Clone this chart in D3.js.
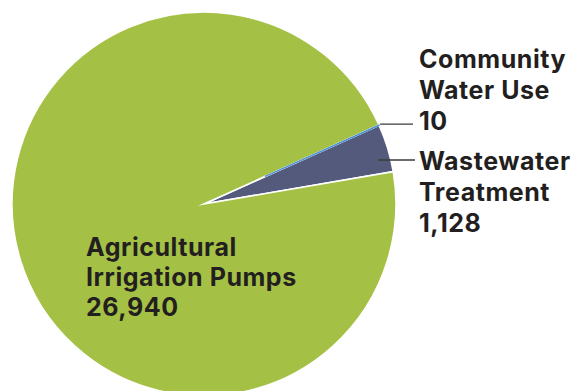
<!DOCTYPE html>
<html>
<head>
<meta charset="utf-8">
<script src="https://cdn.jsdelivr.net/npm/d3@7/dist/d3.min.js"></script>
<style>
  html, body { margin: 0; padding: 0; background: #ffffff; }
  svg { display: block; }
  text { font-family: Inter, Roboto, "Noto Sans", sans-serif; font-weight: 700; fill: #231f20; letter-spacing: 0.55px; }
</style>
</head>
<body>
<svg id="chart" width="571" height="391"></svg>
<script>
// Energy use by sector
const categories = ["Community Water Use", "Wastewater Treatment", "Agricultural Irrigation Pumps"];
const labelLines = [["Community", "Water Use"], ["Wastewater", "Treatment"], ["Agricultural", "Irrigation Pumps"]];
const values = [10, 1128, 26940];
const colors = ["#4a8fd6", "#535a7b", "#a5c145"];

const width = 571, height = 391;
const cx = 204, cy = 204, radius = 192;
const startDeg = 65.7;

const svg = d3.select("#chart");
const g = svg.append("g").attr("transform", `translate(${cx},${cy})`);

const pie = d3.pie()
  .sort(null)
  .value(d => d)
  .startAngle(startDeg * Math.PI / 180)
  .endAngle(startDeg * Math.PI / 180 + 2 * Math.PI);

const arcs = pie(values);
const arc = d3.arc().innerRadius(0).outerRadius(radius);

g.selectAll("path.slice")
  .data(arcs)
  .join("path")
  .attr("class", "slice")
  .attr("d", arc)
  .attr("fill", (d, i) => colors[i])
  .attr("stroke", "#ffffff")
  .attr("stroke-width", 1.6)
  .attr("stroke-linejoin", "miter")
  .attr("stroke-miterlimit", 10);

// the sliver slice is thinner than the separators, so outline it in its own colour on top
g.append("path")
  .attr("d", d3.arc().innerRadius(radius * 0.35).outerRadius(radius)(arcs[0]))
  .attr("fill", colors[0])
  .attr("stroke", colors[0])
  .attr("stroke-width", 1.1);

const fmt = d3.format(",");
const fontSize = 25, lineH = 31;

function polar(a, r) {
  return [Math.sin(a) * r, -Math.cos(a) * r];
}

// Community Water Use: leader from the rim, label block to the right
{
  const a = (arcs[0].startAngle + arcs[0].endAngle) / 2;
  const [px, py] = polar(a, radius);
  g.append("line")
    .attr("x1", px + 1).attr("y1", py - 1)
    .attr("x2", 413 - cx).attr("y2", py - 1)
    .attr("stroke", "#3a3a3a").attr("stroke-width", 1.3);
  const t = svg.append("text").attr("x", 419).attr("y", 68).attr("font-size", fontSize);
  labelLines[0].concat([fmt(values[0])]).forEach((s, k) => {
    t.append("tspan").attr("x", 419).attr("dy", k === 0 ? 0 : lineH).text(s);
  });
}

// Wastewater Treatment: leader from inside the wedge
{
  const ly = 160 - cy;
  const r0 = radius * 0.935;
  const px = Math.sqrt(r0 * r0 - ly * ly);
  g.append("line")
    .attr("x1", px).attr("y1", ly)
    .attr("x2", 415 - cx).attr("y2", ly)
    .attr("stroke", "#3a3a3a").attr("stroke-width", 1.3);
  const t = svg.append("text").attr("x", 419).attr("y", 170).attr("font-size", fontSize);
  labelLines[1].concat([fmt(values[1])]).forEach((s, k) => {
    t.append("tspan").attr("x", 419).attr("dy", k === 0 ? 0 : lineH).text(s);
  });
}

// Agricultural Irrigation Pumps: label inside the large slice
{
  const t = svg.append("text").attr("x", 86).attr("y", 256).attr("font-size", fontSize);
  labelLines[2].concat([fmt(values[2])]).forEach((s, k) => {
    t.append("tspan").attr("x", 86).attr("dy", k === 0 ? 0 : 30).text(s);
  });
}
</script>
</body>
</html>
